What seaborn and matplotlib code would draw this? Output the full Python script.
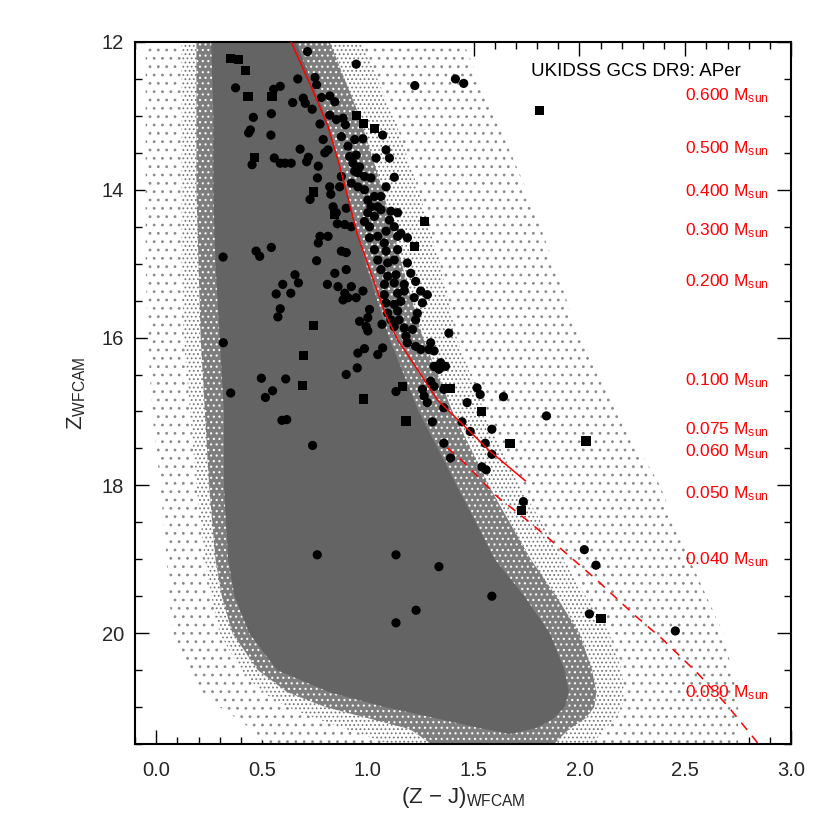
import numpy as np
import pandas as pd
import matplotlib
matplotlib.use('Agg')
import matplotlib.pyplot as plt
import seaborn as sns

# --- field-star cloud: outline of the grey distribution ---
cloud_mag = [12.0, 13.0, 14.0, 15.0, 16.0, 17.0, 18.0, 19.0, 19.5, 20.0, 20.5, 20.8, 21.0, 21.15, 21.3, 21.5]
dense_left = [0.19, 0.19, 0.19, 0.20, 0.21, 0.23, 0.25, 0.28, 0.31, 0.36, 0.48, 0.62, 0.80, 1.00, 1.20, 1.30]
dense_right = [0.82, 0.96, 1.07, 1.16, 1.26, 1.40, 1.57, 1.77, 1.89, 2.00, 2.06, 2.08, 2.07, 2.03, 1.95, 1.88]
mid_left = [0.12, 0.12, 0.12, 0.12, 0.13, 0.16, 0.19, 0.23, 0.26, 0.30, 0.40, 0.50, 0.62, 0.75, 0.90, 1.10]
mid_right = [0.97, 1.12, 1.24, 1.34, 1.42, 1.55, 1.72, 1.92, 2.03, 2.14, 2.20, 2.21, 2.20, 2.17, 2.12, 2.06]
outer_left = [-0.05, -0.05, -0.05, -0.05, -0.04, -0.02, 0.02, 0.05, 0.06, 0.08, 0.15, 0.22, 0.30, 0.38, 0.45, 0.52]
outer_right = [1.45, 1.60, 1.75, 1.88, 2.00, 2.18, 2.38, 2.52, 2.60, 2.68, 2.72, 2.74, 2.75, 2.75, 2.75, 2.75]

core_mag = [12.0, 13.0, 14.0, 15.0, 16.0, 17.0, 18.0, 19.0, 19.5, 20.0, 20.5, 20.8, 21.0, 21.15, 21.28, 21.36]
core_left = [0.26, 0.27, 0.27, 0.28, 0.30, 0.32, 0.32, 0.34, 0.37, 0.44, 0.57, 0.82, 1.08, 1.32, 1.52, 1.66]
core_right = [0.66, 0.80, 0.90, 0.99, 1.10, 1.24, 1.42, 1.60, 1.74, 1.86, 1.93, 1.95, 1.93, 1.88, 1.80, 1.68]

# --- candidate members (circles) ---
circ_zj = [0.715, 0.945, 1.222, 1.414, 1.453, 0.375, 0.555, 0.586, 0.645, 0.695, 0.705, 0.737, 0.669, 0.750,
           0.758, 0.781, 0.820, 0.844, 0.774, 0.820, 0.851, 0.883, 0.894, 1.070, 0.459, 0.544, 0.445, 0.437,
           0.542, 0.680, 0.558, 0.453, 0.586, 0.609, 0.638, 0.719, 0.711, 0.766, 0.762, 0.820, 0.727, 0.825,
           0.856, 0.789, 0.812, 0.797, 0.875, 0.906, 0.938, 0.977, 1.039, 1.086, 1.102, 0.914, 0.945, 0.930,
           0.961, 0.938, 0.867, 0.875, 0.953, 0.984, 1.015, 1.125, 1.086, 0.922, 0.953, 0.984, 1.000, 1.031,
           1.062, 1.015, 1.047, 1.000, 1.031, 1.062, 1.109, 1.141, 1.102, 1.125, 1.086, 1.156, 0.836, 0.851,
           0.898, 0.891, 0.922, 0.984, 1.008, 0.774, 0.812, 0.766, 0.875, 0.898, 0.758, 0.898, 0.844, 0.672,
           0.809, 0.859, 0.922, 0.891, 0.883, 0.906, 0.945, 0.977, 1.008, 0.961, 1.000, 0.992, 1.000, 0.984,
           0.953, 1.070, 1.047, 0.950, 0.898, 1.133, 0.544, 0.472, 0.489, 0.316, 0.656, 0.598, 0.636, 0.567,
           0.586, 0.575, 1.067, 0.317, 0.497, 0.612, 0.550, 0.516, 0.352, 0.594, 0.617, 0.739,
           1.008, 1.047, 1.078, 1.141, 1.187, 1.031, 1.086, 1.141, 1.047, 1.094, 1.125, 1.187, 1.062, 1.094,
           1.133, 1.203, 1.078, 1.125, 1.172, 1.226, 1.078, 1.141, 1.172, 1.250, 1.281, 1.219, 1.258, 1.086,
           1.125, 1.156, 1.094, 1.141, 1.109, 1.148, 1.226, 1.234, 1.172, 1.211, 1.125, 1.180, 1.187, 1.226,
           1.250, 1.297, 1.383, 1.289, 1.313, 1.313, 1.344, 1.336, 1.367, 1.297, 1.313, 1.359, 1.258, 1.266,
           1.281, 1.359, 1.516, 1.531, 1.469, 1.445, 1.305, 1.641, 1.844, 1.586, 1.484, 1.555, 1.359, 1.586,
           1.391, 1.539, 1.559, 1.735, 2.023, 2.078, 1.336, 1.586, 0.761, 1.133, 1.228, 2.047, 2.453, 1.133]
circ_z = [12.13, 12.30, 12.59, 12.50, 12.56, 12.62, 12.64, 12.60, 12.82, 12.76, 12.83, 12.91, 12.50, 12.48,
          12.58, 12.75, 12.73, 12.81, 13.11, 12.99, 13.05, 13.03, 13.12, 13.26, 13.02, 12.97, 13.19, 13.23,
          13.26, 13.45, 13.57, 13.66, 13.64, 13.64, 13.64, 13.56, 13.62, 13.68, 13.84, 13.96, 14.13, 14.06,
          14.46, 13.32, 13.46, 13.50, 13.28, 13.41, 13.32, 13.31, 13.57, 13.46, 13.57, 13.55, 13.53, 13.64,
          13.69, 13.75, 13.96, 13.82, 13.77, 13.82, 13.84, 13.83, 13.96, 13.91, 13.96, 14.00, 14.14, 14.09,
          14.09, 14.23, 14.23, 14.31, 14.36, 14.27, 14.29, 14.31, 14.41, 14.50, 14.56, 14.59, 14.23, 14.31,
          14.25, 14.47, 14.50, 14.43, 14.50, 14.63, 14.63, 14.72, 14.83, 14.85, 14.96, 15.08, 15.13, 15.26,
          15.28, 15.31, 15.31, 15.40, 15.49, 15.46, 15.46, 15.37, 15.62, 15.78, 15.73, 15.85, 15.91, 16.15,
          16.21, 16.14, 16.23, 16.41, 16.50, 16.73, 14.78, 14.83, 14.90, 14.91, 15.15, 15.28, 15.40, 15.41,
          15.61, 15.72, 15.82, 16.07, 16.55, 16.56, 16.72, 16.81, 16.75, 17.12, 17.11, 17.46,
          14.65, 14.63, 14.72, 14.63, 14.65, 14.81, 14.83, 14.81, 14.95, 14.99, 14.95, 14.99, 15.08, 15.17,
          15.15, 15.13, 15.28, 15.26, 15.28, 15.24, 15.42, 15.40, 15.37, 15.37, 15.42, 15.46, 15.53, 15.53,
          15.55, 15.51, 15.67, 15.64, 15.76, 15.76, 15.76, 15.67, 15.87, 15.89, 15.85, 15.98, 16.07, 16.12,
          16.16, 16.07, 15.94, 16.16, 16.18, 16.39, 16.34, 16.43, 16.39, 16.59, 16.66, 16.70, 16.70, 16.79,
          16.88, 16.95, 16.68, 16.77, 16.88, 17.14, 17.14, 16.80, 17.06, 17.24, 17.27, 17.43, 17.43, 17.58,
          17.63, 17.75, 17.79, 18.22, 18.87, 19.08, 19.10, 19.50, 18.94, 18.94, 19.69, 19.74, 19.97, 19.86]

# --- candidate members (squares) ---
sq_zj = [0.352, 0.390, 0.422, 0.434, 0.547, 0.742, 0.844, 0.945, 0.981, 1.031, 0.742, 0.695, 0.691, 0.981,
         1.180, 1.164, 1.539, 1.672, 2.031, 1.810, 1.266, 1.219, 1.367, 1.391, 1.727, 2.102, 0.464]
sq_z = [12.22, 12.24, 12.39, 12.74, 12.74, 14.03, 14.33, 12.99, 13.10, 13.17, 15.84, 16.24, 16.65, 16.83,
        17.13, 16.66, 17.00, 17.43, 17.40, 12.93, 14.43, 14.77, 16.69, 16.69, 18.34, 19.80, 13.56]

# --- model isochrones ---
iso_zj = [0.633, 0.733, 0.813, 0.868, 0.950, 1.009, 1.080, 1.141, 1.234, 1.328, 1.457, 1.578, 1.745]
iso_z = [11.97, 12.61, 13.15, 13.69, 14.60, 15.08, 15.66, 16.03, 16.43, 16.84, 17.20, 17.54, 17.94]
dusty_zj = [1.375, 1.455, 1.610, 1.765, 1.925, 2.078, 2.266, 2.392, 2.561, 2.702, 2.838, 2.860]
dusty_z = [17.49, 17.69, 18.15, 18.50, 18.89, 19.27, 19.77, 20.08, 20.55, 20.99, 21.47, 21.60]

mass_labels = ['0.600', '0.500', '0.400', '0.300', '0.200', '0.100', '0.075', '0.060', '0.050', '0.040', '0.030']
mass_mag = [12.72, 13.45, 14.03, 14.55, 15.24, 16.58, 17.24, 17.54, 18.11, 19.00, 20.80]

sns.set_style('ticks')
plt.rcParams['font.family'] = ['Liberation Sans', 'DejaVu Sans']
plt.rcParams['mathtext.fontset'] = 'custom'
plt.rcParams['mathtext.rm'] = 'Liberation Sans'
plt.rcParams['mathtext.it'] = 'Liberation Sans:italic'
plt.rcParams['hatch.linewidth'] = 0.8

fig = plt.figure(figsize=(8.3, 8.3), dpi=100)
ax = fig.add_axes([0.1627, 0.1036, 0.7904, 0.8458])

# grey cloud: sparse fringe -> denser fringe -> stippled edge -> solid core
ax.fill_betweenx(cloud_mag, outer_left, outer_right, facecolor='white', edgecolor='#8a8a8a',
                 hatch='..', lw=0, zorder=1)
ax.fill_betweenx(cloud_mag, mid_left, mid_right, facecolor='white', edgecolor='#787878',
                 hatch='....', lw=0, zorder=1.1)
ax.fill_betweenx(cloud_mag, dense_left, dense_right, facecolor='#7e7e7e', edgecolor='white',
                 hatch='...', lw=0, zorder=1.2)
ax.fill_betweenx(core_mag, core_left, core_right, facecolor='#646464', edgecolor='none', lw=0, zorder=1.4)

members = pd.DataFrame({
    'zj': circ_zj + sq_zj,
    'z': circ_z + sq_z,
    'shape': ['circle'] * len(circ_zj) + ['square'] * len(sq_zj),
})
sns.scatterplot(data=members, x='zj', y='z', style='shape', markers={'circle': 'o', 'square': 's'},
                color='black', s=44, edgecolor='none', linewidth=0, legend=False, ax=ax, zorder=3)

sns.lineplot(x=iso_zj, y=iso_z, sort=False, estimator=None, color='red', lw=1.1, ax=ax, zorder=4)
sns.lineplot(x=dusty_zj, y=dusty_z, sort=False, estimator=None, color='red', lw=1.1,
             linestyle=(0, (6, 5)), ax=ax, zorder=4)

for lab, m in zip(mass_labels, mass_mag):
    ax.text(2.50, m, lab + r' M$_{\rm sun}$', color='red', fontsize=12.5, ha='left', va='center', zorder=5)

ax.text(0.923, 0.958, 'UKIDSS GCS DR9: APer', transform=ax.transAxes, ha='right', va='center',
        fontsize=13.5, color='black')

ax.set_xlim(-0.1, 3.0)
ax.set_ylim(21.5, 12.0)
ax.set_xticks(np.arange(0.0, 3.01, 0.5))
ax.set_xticklabels(['0.0', '0.5', '1.0', '1.5', '2.0', '2.5', '3.0'])
ax.set_xticks(np.arange(-0.1, 3.01, 0.1), minor=True)
ax.set_yticks([12, 14, 16, 18, 20])
ax.set_yticks(np.arange(12, 21.51, 0.5), minor=True)
ax.tick_params(which='both', direction='in', top=True, right=True, width=1, color='black')
ax.tick_params(which='major', length=10, labelsize=14.5, pad=8)
ax.tick_params(which='minor', length=5)
ax.tick_params(axis='x', which='major', pad=12)
for sp in ax.spines.values():
    sp.set_linewidth(1.5)
    sp.set_color('black')

ax.set_xlabel(r'(Z $-$ J)$_{\rm WFCAM}$', fontsize=16, labelpad=4)
ax.set_ylabel(r'Z$_{\rm WFCAM}$', fontsize=16, labelpad=10)

fig.savefig('out.png', dpi=100)
